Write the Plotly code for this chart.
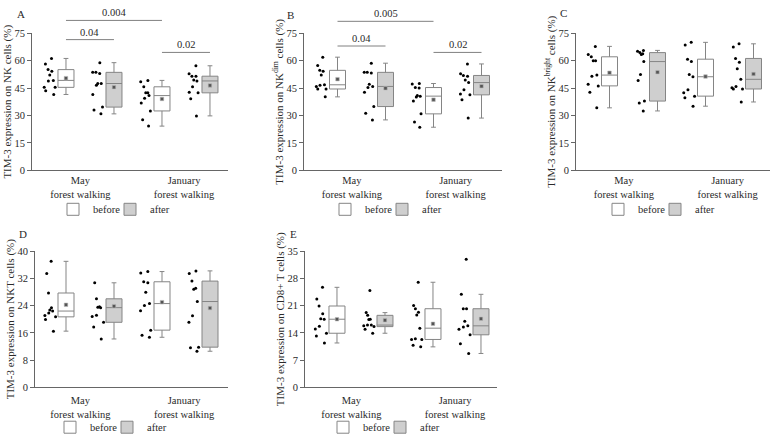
import numpy as np
import plotly.graph_objects as go

categories = ["May<br>forest walking", "January<br>forest walking"]
phases = ["before", "after"]

# Panel A: TIM-3 expression on NK cells (%)
A_may_before = [61.2, 58.2, 55.1, 54.2, 52.1, 49.2, 48.9, 45.4, 45.4, 43.6, 41.5]
A_may_after = [58.9, 53.6, 53.6, 53.0, 47.5, 47.5, 46.5, 41.5, 34.6, 33.0, 30.9]
A_jan_before = [49.2, 48.5, 45.7, 42.4, 42.4, 40.9, 39.5, 36.8, 32.5, 27.7, 24.2]
A_jan_after = [57.2, 52.9, 51.5, 51.5, 49.4, 48.9, 45.7, 42.7, 42.4, 39.2, 29.8]

# Panel B: TIM-3 expression on NK dim cells (%)
B_may_before = [61.9, 57.3, 54.7, 54.2, 52.1, 46.8, 46.6, 45.9, 44.5, 44.5, 40.2]
B_may_after = [58.6, 53.6, 53.6, 53.3, 47.1, 45.9, 45.3, 42.7, 34.9, 31.2, 27.6]
B_jan_before = [47.5, 47.2, 45.3, 45.0, 40.9, 40.6, 40.1, 37.9, 30.9, 26.5, 23.6]
B_jan_after = [58.2, 52.9, 51.9, 51.5, 49.4, 48.0, 44.1, 41.8, 41.3, 38.6, 28.6]

# Panel C: TIM-3 expression on NK bright cells (%)
C_may_before = [67.8, 63.4, 62.1, 60.0, 60.0, 52.1, 51.5, 47.1, 46.2, 42.7, 34.2]
C_may_after = [65.6, 65.1, 64.4, 63.8, 63.3, 59.5, 52.4, 49.2, 37.9, 36.9, 32.5]
C_jan_before = [70.0, 68.6, 60.8, 59.5, 52.4, 51.2, 44.1, 42.4, 40.6, 39.7, 35.1]
C_jan_after = [69.2, 67.4, 61.2, 59.1, 55.6, 49.8, 45.9, 45.2, 44.5, 44.5, 37.4]

# Panel D: TIM-3 expression on NKT cells (%)
D_may_before = [37.0, 33.4, 27.7, 23.4, 22.7, 22.4, 21.8, 21.1, 20.7, 19.9, 16.5]
D_may_after = [41.9, 30.7, 26.0, 23.7, 23.5, 23.4, 21.2, 20.8, 19.1, 17.7, 14.2]
D_jan_before = [34.0, 33.6, 31.0, 30.7, 27.9, 24.6, 24.0, 22.5, 16.8, 15.3, 14.7]
D_jan_after = [34.2, 33.4, 31.2, 29.1, 28.8, 25.2, 21.0, 19.1, 11.8, 11.6, 10.6]

# Panel E: TIM-3 expression on CD8+ T cells (%)
E_may_before = [25.7, 22.7, 20.9, 18.9, 17.6, 17.5, 15.7, 15.0, 13.9, 13.2, 11.4]
E_may_after = [24.9, 19.2, 18.5, 17.5, 17.4, 16.0, 16.0, 15.8, 15.6, 14.9, 13.9]
E_jan_before = [27.0, 21.0, 20.2, 19.3, 18.6, 15.2, 12.5, 12.3, 12.3, 10.8, 10.4]
E_jan_after = [32.9, 23.9, 20.2, 20.2, 17.0, 15.8, 15.5, 14.9, 13.5, 11.2, 8.7]

panel_letters = ["A", "B", "C", "D", "E"]
y_titles = [
    "TIM-3 expression on NK cells (%)",
    "TIM-3 expression on NK<sup>dim</sup> cells (%)",
    "TIM-3 expression on NK<sup>bright</sup> cells (%)",
    "TIM-3 expression on NKT cells (%)",
    "TIM-3 expression on CD8+ T cells (%)",
]
y_max = [75, 75, 75, 40, 35]
y_dtick = [15, 15, 15, 8, 7]

# significance brackets: (panel, (cat, phase), (cat, phase), level, label)
brackets = [
    (0, (0, 0), (1, 0), 82.0, "0.004"),
    (0, (0, 0), (0, 1), 71.5, "0.04"),
    (0, (1, 0), (1, 1), 64.5, "0.02"),
    (1, (0, 0), (1, 0), 81.5, "0.005"),
    (1, (0, 0), (0, 1), 68.0, "0.04"),
    (1, (1, 0), (1, 1), 64.5, "0.02"),
]

data = [
    [[A_may_before, A_may_after], [A_jan_before, A_jan_after]],
    [[B_may_before, B_may_after], [B_jan_before, B_jan_after]],
    [[C_may_before, C_may_after], [C_jan_before, C_jan_after]],
    [[D_may_before, D_may_after], [D_jan_before, D_jan_after]],
    [[E_may_before, E_may_after], [E_jan_before, E_jan_after]],
]

# ---- layout geometry (pixels in a 774x442 canvas) ----
W, H = 774, 442
px_per_unit = 96.0
x_px = [(32, 228), (304, 502), (576, 770), (35, 228), (305, 497)]
x_r0 = [-0.604, -0.599, -0.599, -0.573, -0.583]
y_px = [(29, 170), (29, 170), (29, 170), (253, 393), (253, 393)]
label_standoff = [0, 0, 0, 3, 3]
legend_pos = [(114, 210), (386, 210), (659, 210), (111, 434), (384, 434)]
letter_pos = [(21, 9), (290, 10), (563, 8), (23, 235), (293, 235)]
phase_offset = [-0.25, 0.25]
box_width = 16 / px_per_unit
fills = ["#ffffff", "#cfcfcf"]
legend_entry_w = [12, None]
FONT = "Liberation Serif, Times New Roman, DejaVu Serif, serif"
TXT = "#2a2a2a"

fig = go.Figure()
layout = dict(
    width=W, height=H, margin=dict(l=0, r=0, t=0, b=0),
    paper_bgcolor="white", plot_bgcolor="white",
    font=dict(family=FONT, size=11, color=TXT),
    showlegend=True, shapes=[], annotations=[],
)

ranges = []
for p in range(5):
    n = "" if p == 0 else str(p + 1)
    xa, ya = "x" + n, "y" + n
    leg = "legend" + n
    r0 = x_r0[p]
    r1 = r0 + (x_px[p][1] - x_px[p][0]) / px_per_unit
    ranges.append((r0, r1))
    for c in range(2):
        for ph in range(2):
            vals = data[p][c][ph]
            pos = c + phase_offset[ph]
            box_kw = {}
            if legend_entry_w[ph] is not None:
                box_kw["legendwidth"] = legend_entry_w[ph]
            fig.add_trace(go.Box(
                x=[pos] * len(vals), y=vals, name=phases[ph],
                legend=leg, legendgroup=f"{p}-{ph}", showlegend=(c == 0),
                boxpoints="all", jitter=0.9, pointpos=-2,
                quartilemethod="exclusive", width=box_width,
                whiskerwidth=0.3, fillcolor=fills[ph],
                line=dict(color="#858585", width=1),
                marker=dict(color="black", size=3),
                xaxis=xa, yaxis=ya, hoverinfo="y", **box_kw,
            ))
            fig.add_trace(go.Scatter(
                x=[pos], y=[float(np.mean(vals))], mode="markers",
                marker=dict(symbol="square", size=3.5, color="#555555",
                            line=dict(color="#bbbbbb", width=0.6)),
                showlegend=False, xaxis=xa, yaxis=ya, hoverinfo="y",
            ))

    layout["xaxis" + n] = dict(
        domain=[x_px[p][0] / W, x_px[p][1] / W], range=[r0, r1],
        anchor=ya, tickvals=[-0.1, 0.98], ticktext=categories,
        showline=True, linecolor="#666666", linewidth=1, ticks="",
        ticklabelstandoff=label_standoff[p],
        showgrid=False, zeroline=False, tickfont=dict(size=10.5),
    )
    layout["yaxis" + n] = dict(
        domain=[(H - y_px[p][1]) / H, (H - y_px[p][0]) / H],
        range=[0, y_max[p]], tick0=0, dtick=y_dtick[p], anchor=xa,
        showline=True, linecolor="#666666", linewidth=1,
        ticks="outside", ticklen=4, tickcolor="#666666",
        showgrid=False, zeroline=False, tickfont=dict(size=10.5),
        title=dict(text=y_titles[p], font=dict(size=11), standoff=0),
    )
    layout[leg] = dict(
        orientation="h", x=legend_pos[p][0] / W, y=(H - legend_pos[p][1]) / H,
        xanchor="center", yanchor="middle", font=dict(size=10.5),
        itemwidth=30, bgcolor="rgba(0,0,0,0)",
        traceorder="normal", itemclick=False, itemdoubleclick=False,
    )
    layout["annotations"].append(dict(
        text=panel_letters[p], x=letter_pos[p][0] / W, y=(H - letter_pos[p][1]) / H,
        xref="paper", yref="paper", showarrow=False,
        xanchor="center", yanchor="middle", font=dict(size=11),
    ))

for p, (c0, ph0), (c1, ph1), level, label in brackets:
    n = "" if p == 0 else str(p + 1)
    r0, r1 = ranges[p]
    u0 = c0 + phase_offset[ph0]
    u1 = c1 + phase_offset[ph1]
    fx0 = (u0 - r0) / (r1 - r0)
    fx1 = (u1 - r0) / (r1 - r0)
    fy = level / y_max[p]
    layout["shapes"].append(dict(
        type="line", xref=f"x{n} domain", yref=f"y{n} domain",
        x0=fx0, x1=fx1, y0=fy, y1=fy, line=dict(color="#808080", width=1),
    ))
    layout["annotations"].append(dict(
        text=label, xref=f"x{n} domain", yref=f"y{n} domain",
        x=(fx0 + fx1) / 2, y=fy, yanchor="bottom", xanchor="center",
        showarrow=False, font=dict(size=10.5),
    ))

fig.update_layout(**layout)
fig.write_html(
    "out.html",
    config={"displayModeBar": False},
    post_script="document.body.style.margin='0';document.body.style.padding='0';"
                "document.body.style.overflow='hidden';",
)
